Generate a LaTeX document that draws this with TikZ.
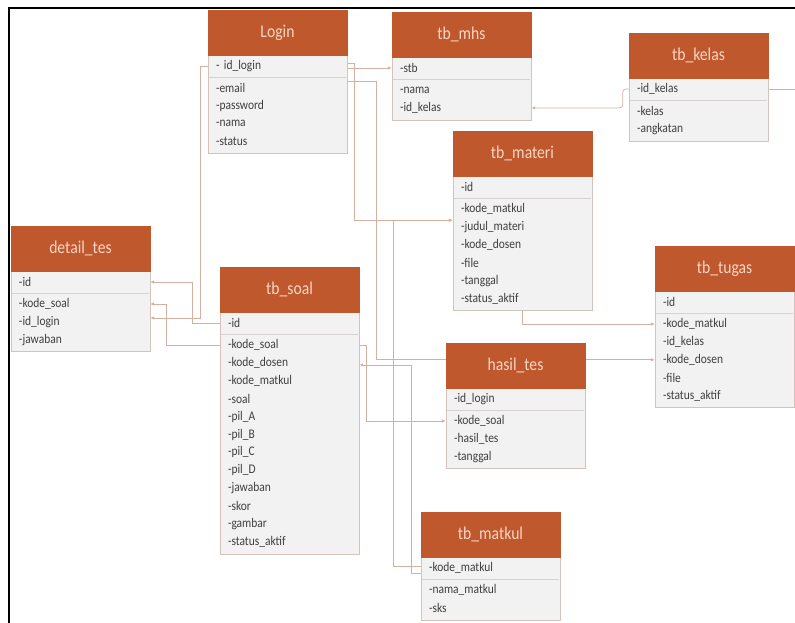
\documentclass[tikz,border=0pt]{standalone}
\usepackage{fontspec}
\setmainfont{Carlito}[FakeStretch=0.87]
\usetikzlibrary{calc,arrows.meta}
\definecolor{hdrfill}{RGB}{192,88,45}
\definecolor{hdrtext}{RGB}{247,214,197}
\definecolor{bodyfill}{RGB}{242,242,242}
\definecolor{bodyline}{RGB}{212,195,188}
\definecolor{sepcol}{RGB}{215,210,208}
\definecolor{rowtext}{RGB}{64,64,64}
\definecolor{conncol}{RGB}{212,176,160}
\pgfdeclarelayer{conn}
\pgfsetlayers{conn,main}
\tikzset{
  erhead/.style={fill=hdrfill,draw=hdrfill,minimum width=139pt,minimum height=45pt,inner sep=0pt,
    text=hdrtext,font=\fontsize{18}{20}\selectfont},
  errow/.style={text width=123pt,inner xsep=8pt,inner ysep=0pt,minimum height=17.9pt,align=left,
    text=rowtext,font=\fontsize{13.2}{14}\selectfont},
  erbody/.style={fill=bodyfill,draw=bodyline,line width=0.6pt},
  ersep/.style={draw=sepcol,line width=0.6pt},
  conn/.style={draw=conncol,line width=0.75pt,arrows={-Latex[length=4pt,width=3.5pt]}},
  connr/.style={draw=conncol,line width=0.75pt,arrows={Latex[length=4pt,width=3.5pt]-}},
}
% #1 id, #2 x, #3 ytop, #4 number of rows after key, #5 title, #6 key row, #7 rows
\newcommand\ertab[7]{%
  \draw[erbody] (#2,#3+45) rectangle (#2+139,#3+45+22+2.05+#4*17.9+3);
  \draw[ersep] (#2+1,#3+67) -- (#2+138,#3+67);
  \node[erhead] (#1) at (#2+69.5,#3+22.5) {#5};
  \node[errow,minimum height=22pt] (#1-1) at (#2+69.5,#3+56) {#6};
  \foreach \r [count=\i from 2] in {#7} {
    \node[errow] (#1-\i) at (#2+69.5,#3+78+\i*17.9-2*17.9) {\r};
  }%
}
\begin{document}
\begin{tikzpicture}[x=1pt,y=-1pt]
\useasboundingbox (0,0) rectangle (795,623);
\draw[line width=2pt,black] (9,623) -- (9,8) -- (795,8);

\ertab{login}{208}{10}{4}{Login}{- id\_login}{-email,-password,-nama,-status}
\ertab{mhs}{392}{12}{2}{tb\_mhs}{-stb}{-nama,-id\_kelas}
\ertab{kelas}{629}{33}{2}{tb\_kelas}{-id\_kelas}{-kelas,-angkatan}
\ertab{materi}{453}{131}{6}{tb\_materi}{-id}{-kode\_matkul,-judul\_materi,-kode\_dosen,-file,-tanggal,-status\_aktif}
\ertab{tugas}{655}{246}{5}{tb\_tugas}{-id}{-kode\_matkul,-id\_kelas,-kode\_dosen,-file,-status\_aktif}
\ertab{hasil}{446}{343}{3}{hasil\_tes}{-id\_login}{-kode\_soal,-hasil\_tes,-tanggal}
\ertab{detail}{11}{226}{3}{detail\_tes}{-id}{-kode\_soal,-id\_login,-jawaban}
\ertab{soal}{220}{267}{12}{tb\_soal}{-id}{-kode\_soal,-kode\_dosen,-kode\_matkul,-soal,-pil\_A,-pil\_B,-pil\_C,-pil\_D,-jawaban,-skor,-gambar,-status\_aktif}
\ertab{matkul}{421}{512}{2}{tb\_matkul}{-kode\_matkul}{-nama\_matkul,-sks}

\coordinate (materiin) at ($(materi-2.south west)+(0,2)$);

\begin{pgfonlayer}{conn}
\draw[conn] (login-1.east |- mhs-1.west) -- (mhs-1.west);
\draw[conn] ($(login-1.east)+(0,-3)$) -- ++(7,0) |- (materiin);
\draw[conn] ($(login-1.south east)+(0,4)$) -- ++(29,0) |- (tugas-4.west);
\draw[conn] ($(matkul-1.west)+(0,-2)$) -- ++(-27,0) |- (materiin);
\draw[conn] ($(matkul-1.west)+(0,5)$) -- ++(-9,0) |- ($(soal-3.east)+(0,2)$);
\draw[conn] (soal-2.east) -- ++(7,0) |- (hasil-2.west);
\draw[conn] ($(materi-7.south)+(0,3)$) |- (tugas-2.west);
\draw[conn,rounded corners=3pt] (kelas-1.west) -- ++(-6,0) |- (mhs-3.east);
\draw[conn] (kelas-1.east) -- ++(40,0) |- (tugas-3.east);
\draw[connr] (detail-1.east) -- ++(42,0) |- (soal-1.west);
\draw[connr] (detail-2.east) -- ++(16,0) |- (soal-2.west);
\draw[connr] ($(detail-3.east)+(0,-4)$) -- ++(50,0) |- (login-1.west);
\end{pgfonlayer}
\end{tikzpicture}
\end{document}
